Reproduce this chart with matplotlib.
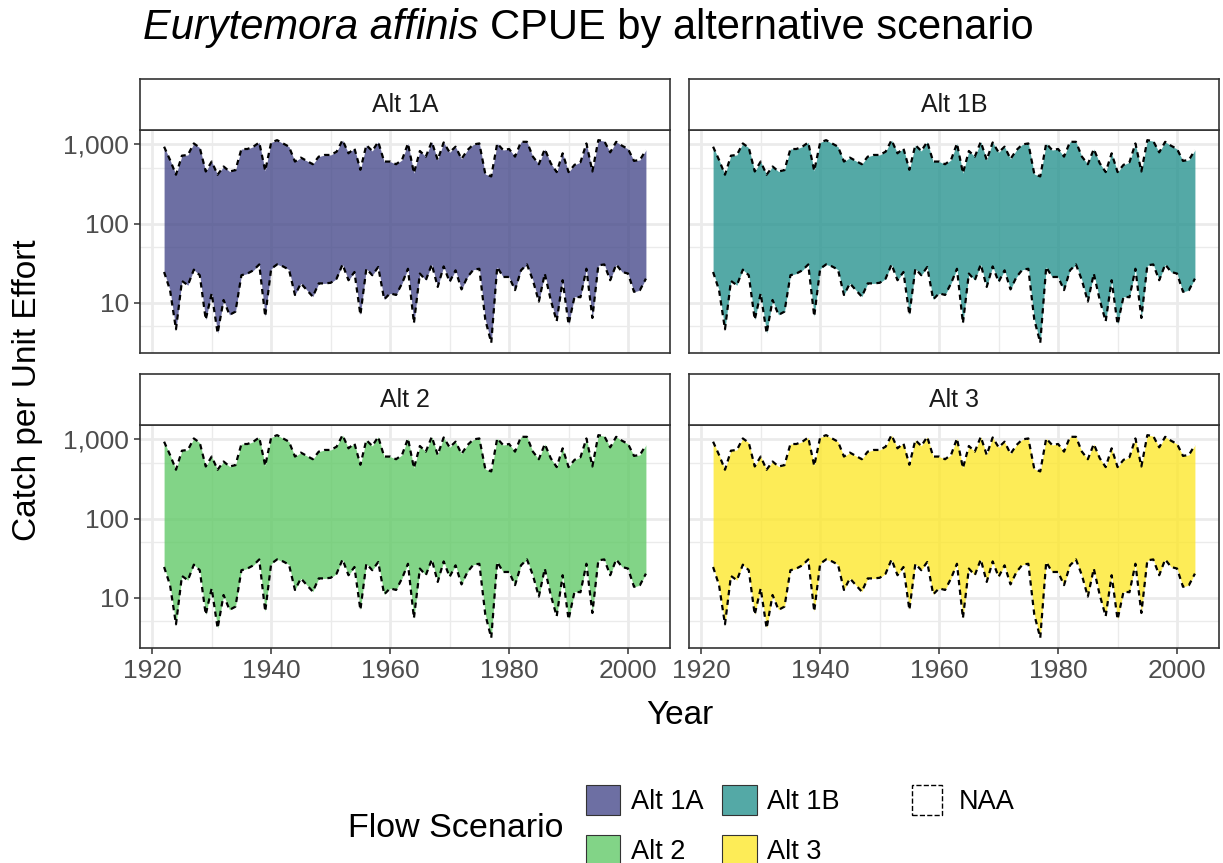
import matplotlib
matplotlib.use("Agg")
import numpy as np
import matplotlib.pyplot as plt
from matplotlib.patches import Patch
from matplotlib.colors import to_rgba
from matplotlib.ticker import FixedLocator, FixedFormatter, NullFormatter

plt.rcParams['font.family'] = ['Liberation Sans', 'DejaVu Sans']

# data (one value per year, 1922-2003)
years = list(range(1922, 2004))
naa_upper = [
    936, 637, 414, 721, 736, 1029, 908, 455, 607, 414,
    526, 455, 473, 875, 875, 936, 1059, 464, 1059, 1133,
    1029, 936, 607, 681, 619, 562, 701, 736, 736, 809,
    1133, 772, 891, 478, 981, 826, 1079, 607, 607, 562,
    637, 1029, 434, 826, 701, 1079, 637, 1059, 794, 936,
    656, 849, 1000, 1029, 422, 394, 1029, 849, 875, 701,
    1079, 1079, 701, 562, 875, 579, 447, 772, 447, 552,
    596, 1029, 455, 1133, 1101, 794, 1079, 962, 875, 619,
    637, 849,
]
naa_lower = [
    24.4, 14.4, 4.6, 18.8, 16.6, 26.1, 22.2, 6.1, 13.1, 4.1,
    10.8, 7.0, 7.7, 22.2, 23.3, 25.6, 30.4, 6.7, 26.8, 30.4,
    28.7, 26.1, 12.5, 17.5, 14.4, 11.9, 17.5, 17.5, 17.8, 20.1,
    30.4, 19.2, 24.4, 7.0, 26.8, 22.2, 28.2, 11.0, 13.1, 12.5,
    17.5, 26.8, 5.5, 23.3, 19.2, 30.4, 15.8, 28.7, 18.3, 25.6,
    14.7, 21.1, 26.1, 26.8, 6.1, 3.1, 28.2, 21.1, 21.1, 14.4,
    25.6, 30.4, 19.2, 10.3, 23.3, 10.8, 5.8, 19.2, 5.3, 11.9,
    11.7, 26.8, 6.4, 29.6, 30.4, 19.2, 30.4, 24.4, 23.3, 13.7,
    14.4, 20.1,
]
scenarios = ['Alt 1A', 'Alt 1B', 'Alt 2', 'Alt 3']
fill_colors = ['#414487', '#21908C', '#5DC863', '#FDE725']
y_breaks = [10, 100, 1000]
y_labels = ['10', '100', '1,000']
y_minor = [5, 50, 500]
x_breaks = [1920, 1940, 1960, 1980, 2000]
x_minor = [1930, 1950, 1970, 1990]

W, H = 1223, 863
fig = plt.figure(figsize=(W / 100, H / 100), dpi=100)


def px_axes(left, top, right, bottom):
    return fig.add_axes([left / W, 1 - bottom / H, (right - left) / W, (bottom - top) / H])


# ggplot-like 5% expansion
x_pad = 0.05 * (years[-1] - years[0])
lo, hi = np.log10(min(naa_lower)), np.log10(max(naa_upper))
y_pad = 0.05 * (hi - lo)
ylim = (10 ** (lo - y_pad), 10 ** (hi + y_pad))

panels = [(140, 670, 130, 353), (689, 1219, 130, 353),
          (140, 670, 425, 648), (689, 1219, 425, 648)]
border = '#333333'

for i, (scen, col) in enumerate(zip(scenarios, fill_colors)):
    left, right, top, bottom = panels[i]
    ax = px_axes(left, top, right, bottom)
    ax.fill_between(years, naa_lower, naa_upper, color=col, alpha=0.77, lw=0, zorder=2)
    for series in (naa_upper, naa_lower):
        ax.plot(years, series, color='black', lw=1.6, ls=(0, (2.4, 2.0)), zorder=3)
    ax.set_yscale('log')
    ax.set_ylim(*ylim)
    ax.set_xlim(years[0] - x_pad, years[-1] + x_pad)

    ax.yaxis.set_major_locator(FixedLocator(y_breaks))
    ax.yaxis.set_minor_locator(FixedLocator(y_minor))
    ax.yaxis.set_minor_formatter(NullFormatter())
    ax.xaxis.set_major_locator(FixedLocator(x_breaks))
    ax.xaxis.set_minor_locator(FixedLocator(x_minor))
    if i % 2 == 0:
        ax.yaxis.set_major_formatter(FixedFormatter(y_labels))
    else:
        ax.yaxis.set_major_formatter(NullFormatter())
    if i < 2:
        ax.xaxis.set_major_formatter(NullFormatter())

    ax.set_axisbelow(True)
    ax.grid(which='major', color='#EBEBEB', lw=2.0)
    ax.grid(which='minor', color='#EBEBEB', lw=1.0)
    ax.tick_params(which='minor', length=0)
    ax.tick_params(which='major', labelsize=19, labelcolor='#4D4D4D', color=border,
                   width=1.1, length=4, pad=4)
    ax.tick_params(axis='x', bottom=(i >= 2))
    ax.tick_params(axis='y', left=(i % 2 == 0))
    for sp in ax.spines.values():
        sp.set_color(border)
        sp.set_linewidth(1.2)

    # facet strip
    sax = px_axes(left, top - 51, right, top)
    sax.set_xticks([])
    sax.set_yticks([])
    for sp in sax.spines.values():
        sp.set_color(border)
        sp.set_linewidth(1.2)
    sax.text(0.5, 0.5, scen, ha='center', va='center', fontsize=18, color='#1A1A1A',
             transform=sax.transAxes)

fig.text(28 / W, 1 - 390 / H, 'Catch per Unit Effort', rotation=90, fontsize=24,
         ha='center', va='center')
fig.text(680 / W, 1 - 715 / H, 'Year', fontsize=24, ha='center', va='center')

# title with italic species name
t1 = fig.text(143 / W, 1 - 28 / H, 'Eurytemora affinis', style='italic', fontsize=30,
              va='center', ha='left')
renderer = fig.canvas.get_renderer()
bb = t1.get_window_extent(renderer)
fig.text((bb.x1 + 11) / W, 1 - 28 / H, 'CPUE by alternative scenario', fontsize=30,
         va='center', ha='left')

# legends
fill_handles = [Patch(facecolor=to_rgba(c, 0.77), edgecolor=border, lw=0.8)
                for c in fill_colors]
order = [0, 2, 1, 3]
fig.legend([fill_handles[k] for k in order], [scenarios[k] for k in order], ncol=2,
           loc='upper left', bbox_to_anchor=(586 / W, 1 - 785 / H), frameon=False,
           fontsize=19.5, handlelength=1.27, handleheight=1.3, handletextpad=0.38,
           labelspacing=0.75, columnspacing=0.7, borderpad=0, borderaxespad=0)
fig.legend([Patch(facecolor='none', edgecolor='black', ls='--', lw=1)], ['NAA'],
           loc='upper left', bbox_to_anchor=(912 / W, 1 - 785 / H), frameon=False,
           fontsize=19.5, handlelength=1.12, handleheight=1.3, handletextpad=0.6,
           borderpad=0, borderaxespad=0)
fig.text(348 / W, 1 - 828 / H, 'Flow Scenario', fontsize=24.5, va='center', ha='left')

fig.savefig('out.png', dpi=100)
plt.close(fig)
